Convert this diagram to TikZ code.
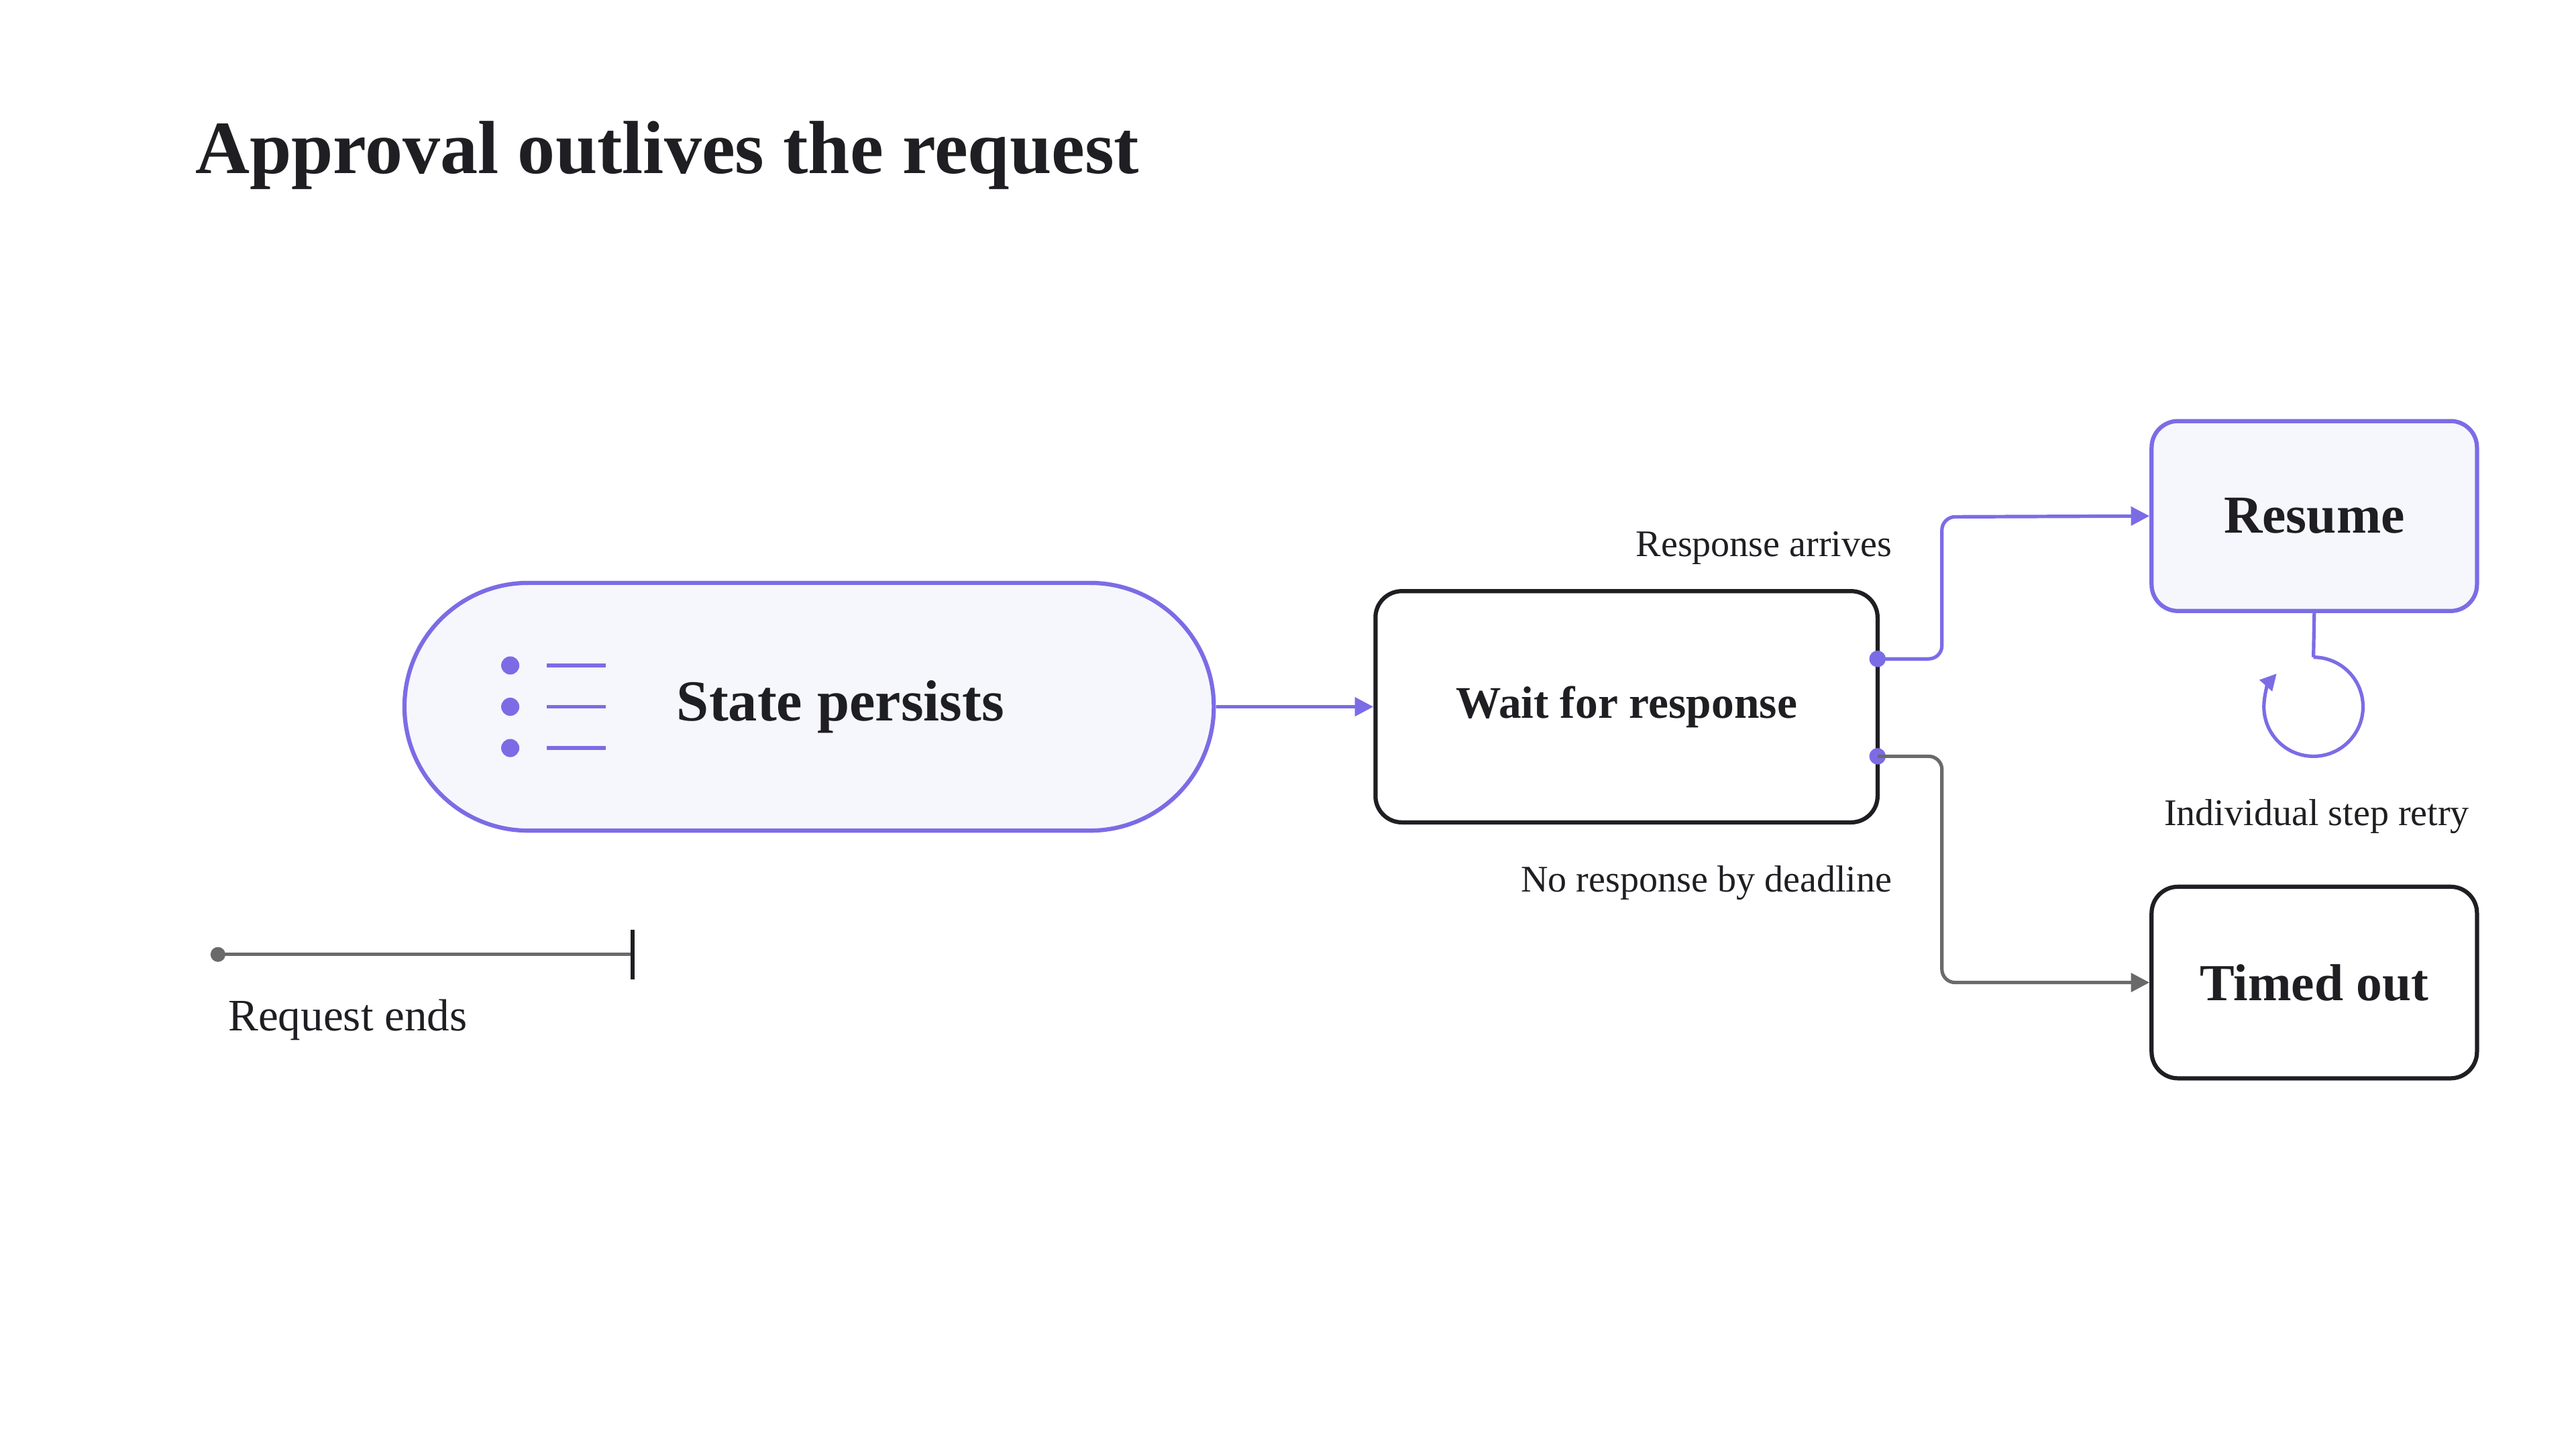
\documentclass[tikz,border=0pt]{standalone}
\usepackage{fontspec}
\setmainfont{Liberation Serif}
\usetikzlibrary{arrows.meta}
\definecolor{accent}{HTML}{7B6CE6}
\definecolor{softfill}{HTML}{F6F7FC}
\definecolor{ink}{HTML}{1F1E22}
\definecolor{wire}{HTML}{6A6A6A}

\begin{document}
\begin{tikzpicture}
[
x=0.025cm, y=-0.025cm,
box/.style={draw, rounded corners=0.4cm, line width=1.8pt, inner sep=0pt, text=ink, font=\bfseries},
link/.style={line width=1.5pt, rounded corners=0.2cm, -{Triangle[length=8pt,width=8pt]}},
caption/.style={text=ink, font=\fontsize{16.2}{19}\selectfont, inner sep=0pt}
]
\useasboundingbox (0,0) rectangle (1560,877.5);

\node[anchor=base west, text=ink, font=\fontsize{32.4}{38}\selectfont\bfseries, inner sep=0pt] (title) at (118,105) {Approval outlives the request};

% main flow
\node[box, draw=accent, fill=softfill, rounded corners=1.875cm, minimum width=12.25cm, minimum height=3.75cm] (state) at (490,428) {};
\node[text=ink, font=\fontsize{25}{30}\selectfont\bfseries] (statetxt) at (509,428) {State persists};
\foreach \y/\n in {403/a,428/b,453/c}{
  \fill[accent] (309,\y) circle (5.5) coordinate (dot\n);
  \draw[accent, line width=1.6pt] (331,\y) -- (367,\y);
}
\node[box, draw=ink, fill=white, minimum width=7.6cm, minimum height=3.5cm, font=\fontsize{19.5}{23}\selectfont\bfseries] (wait) at (985,428) {Wait for response};
\node[box, draw=accent, fill=softfill, minimum width=4.925cm, minimum height=2.875cm, font=\fontsize{23}{27}\selectfont\bfseries] (resume) at (1401.5,312.5) {Resume};
\node[box, draw=ink, fill=white, minimum width=4.925cm, minimum height=2.9cm, font=\fontsize{22.4}{27}\selectfont\bfseries] (timeout) at (1401.5,595) {Timed out};

\draw[link, accent] (state.east) -- (wait.west);

\coordinate (okport) at (1137,399);
\coordinate (noport) at (1137,458);
\fill[accent] (okport) circle (5);
\fill[accent] (noport) circle (5);
\draw[link, accent] (okport) -- (1176,399) -- (1176,313) -- (resume.west);
\draw[link, wire] (noport) -- (1176,458) -- (1176,595) -- (timeout.west);

\node[caption, anchor=base east] (oklbl) at (1146,337) {Response arrives};
\node[caption, anchor=base east] (nolbl) at (1146,540) {No response by deadline};

% retry loop
\coordinate (looptop) at (1401,398);
\draw[accent, line width=1.5pt] (resume.south) -- (looptop);
\draw[accent, line width=1.5pt, -{Triangle[length=7pt,width=7pt]}] (looptop) arc[start angle=-90, end angle=222, radius=30];
\node[caption, anchor=base] (retrylbl) at (1403,500) {Individual step retry};

% request timeline
\coordinate (start) at (132,578);
\coordinate (stop) at (383,578);
\fill[wire] (start) circle (4.5);
\draw[wire, line width=1.5pt] (start) -- (stop);
\draw[ink, line width=1.8pt] (383,563) -- (383,593);
\node[caption, anchor=base west, font=\fontsize{19.4}{23}\selectfont] (endlbl) at (138,624) {Request ends};
\end{tikzpicture}
\end{document}
